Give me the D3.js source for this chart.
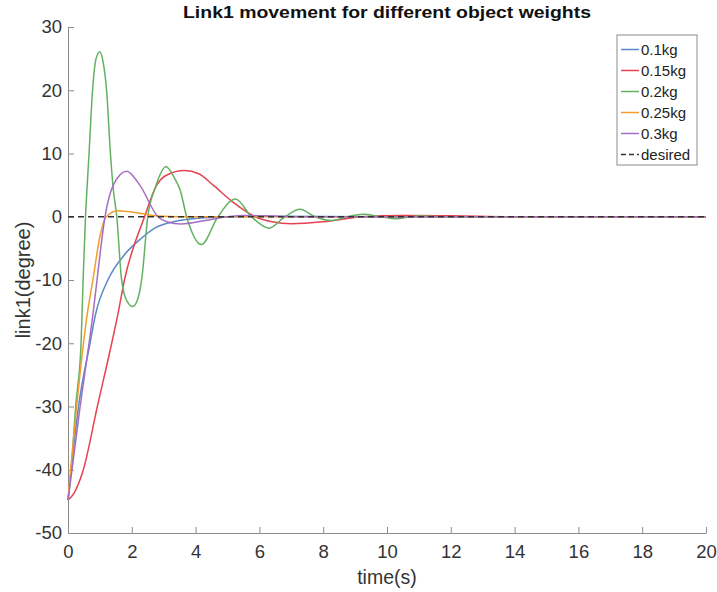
<!DOCTYPE html>
<html>
<head>
<meta charset="utf-8">
<script src="https://cdn.jsdelivr.net/npm/d3@7"></script>
<style>
  body { margin: 0; background: #fff; }
  svg { font-family: "Liberation Sans", Arial, sans-serif; }
</style>
</head>
<body>
<div id="chart"></div>
<script>
// series: time (s) and link1 angle (degree)
const tBlue = [0, 0.1, 0.33, 0.69, 0.86, 1.25, 1.77, 2.3, 2.72, 3.35, 4.17, 5.0, 6.0, 8.0, 10, 20];
const vBlue = [-44.8, -40, -30, -20, -15.5, -10, -6, -3.4, -1.8, -0.75, -0.2, 0, 0.1, 0.05, 0, 0];

const tRed = [0, 0.2, 0.48, 0.92, 1.37, 1.56, 1.77, 2.4, 2.78, 3.1, 3.65, 4.1, 4.55, 5.2, 5.87, 6.4, 7.0, 8.0, 9.2, 10.5, 12, 14, 20];
const vRed = [-44.8, -43.6, -40, -30, -20, -15.5, -10, 0, 5, 6.6, 7.3, 6.8, 5, 2.2, 0, -0.8, -1.1, -0.8, 0, 0.2, 0.15, 0, 0];

const tGreen = [0, 0.1, 0.24, 0.41, 0.48, 0.55, 0.66, 0.77, 0.88, 1.0, 1.1, 1.21, 1.33, 1.42, 1.53, 1.67, 1.8, 2.03, 2.2, 2.32, 2.5, 2.73, 3.07, 3.35, 3.51, 3.72, 4.18, 4.7, 5.25, 5.75, 6.3, 6.8, 7.27, 7.75, 8.25, 8.75, 9.25, 9.8, 10.3, 11, 12, 20];
const vGreen = [-44.8, -40, -30, -20, -9, 0, 10, 20, 25, 26.1, 24.5, 20, 10, 4.3, 0, -9.5, -12.8, -14.2, -12.8, -9.5, 0, 4.5, 7.9, 6, 4.3, 0, -4.4, 0, 2.8, 0, -1.8, 0, 1.2, 0, -0.6, 0, 0.4, 0, -0.3, 0.1, 0, 0];

const tOrange = [0, 0.1, 0.27, 0.6, 0.78, 0.99, 1.2, 1.56, 2.2, 2.82, 3.5, 20];
const vOrange = [-44.8, -39, -30, -15.5, -10, -3.4, 0, 0.95, 0.6, 0.1, 0, 0];

const tPurple = [0, 0.1, 0.38, 0.66, 0.78, 0.91, 1.16, 1.42, 1.84, 2.25, 2.82, 3.1, 3.55, 4.3, 5.0, 5.6, 7.0, 20];
const vPurple = [-44.8, -41, -30, -20, -15.5, -10, 0, 5, 7.2, 5, 0, -0.8, -1.15, -0.6, 0, 0.2, 0, 0];

const tDesired = [0, 20];
const vDesired = [0, 0];

const seriesNames = ["0.1kg", "0.15kg", "0.2kg", "0.25kg", "0.3kg", "desired"];
const seriesColors = ["#5b88c6", "#e4434f", "#62b162", "#f39c2c", "#a56dc1", "#333333"];

const xTicks = [0, 2, 4, 6, 8, 10, 12, 14, 16, 18, 20];
const yTicks = [-50, -40, -30, -20, -10, 0, 10, 20, 30];

const W = 717, H = 592;
const margin = { top: 27, right: 11, bottom: 59, left: 68 };
const width = W - margin.left - margin.right;
const height = H - margin.top - margin.bottom;

const svg = d3.select("#chart").append("svg")
    .attr("width", W)
    .attr("height", H);

const g = svg.append("g")
    .attr("transform", `translate(${margin.left},${margin.top})`);

const x = d3.scaleLinear().domain([0, 20]).range([0, width]);
const y = d3.scaleLinear().domain([-50, 30]).range([height, 0]);

// axes, ticks pointing inward like matlab, plain hyphen for negatives
const xAxisG = g.append("g")
    .attr("transform", `translate(0,${height})`)
    .call(d3.axisBottom(x).tickValues(xTicks).tickFormat(d => String(d))
        .tickSize(-6).tickPadding(12).tickSizeOuter(0));
const yAxisG = g.append("g")
    .call(d3.axisLeft(y).tickValues(yTicks).tickFormat(d => String(d))
        .tickSize(-6).tickPadding(6).tickSizeOuter(0));

[xAxisG, yAxisG].forEach(a => {
    a.select(".domain").attr("stroke", "#8c8c8c");
    a.selectAll(".tick line").attr("stroke", "#8c8c8c");
    a.selectAll(".tick text")
        .attr("fill", "#333")
        .style("font-size", "18.5px");
});
yAxisG.selectAll(".tick text").attr("x", -6);

const line = d3.line()
    .x(d => x(d[0]))
    .y(d => y(d[1]))
    .curve(d3.curveMonotoneX);

const allSeries = [
    [tBlue, vBlue], [tRed, vRed], [tGreen, vGreen],
    [tOrange, vOrange], [tPurple, vPurple], [tDesired, vDesired]
];

g.selectAll(".series")
    .data(allSeries)
    .join("path")
    .attr("class", "series")
    .attr("fill", "none")
    .attr("stroke", (d, i) => seriesColors[i])
    .attr("stroke-width", (d, i) => i === 5 ? 1.3 : 1.5)
    .attr("stroke-dasharray", (d, i) => i === 5 ? "6,4" : null)
    .attr("d", d => line(d[0].map((t, k) => [t, d[1][k]])));

// title and axis labels
svg.append("text")
    .attr("x", margin.left + width / 2)
    .attr("y", 18)
    .attr("text-anchor", "middle")
    .attr("textLength", 408)
    .attr("lengthAdjust", "spacingAndGlyphs")
    .style("font-size", "17px")
    .style("font-weight", "bold")
    .attr("fill", "#111")
    .text("Link1 movement for different object weights");

svg.append("text")
    .attr("x", margin.left + width / 2)
    .attr("y", 584)
    .attr("text-anchor", "middle")
    .style("font-size", "19.5px")
    .attr("fill", "#333")
    .text("time(s)");

svg.append("text")
    .attr("transform", `translate(30,${margin.top + height / 2}) rotate(-90)`)
    .attr("text-anchor", "middle")
    .style("font-size", "20px")
    .attr("fill", "#333")
    .text("link1(degree)");

// legend
const legend = svg.append("g").attr("transform", "translate(617,35)");
legend.append("rect")
    .attr("width", 80)
    .attr("height", 130)
    .attr("fill", "#fff")
    .attr("stroke", "#8c8c8c")
    .attr("stroke-width", 1);

const item = legend.selectAll(".legend-item")
    .data(seriesNames)
    .join("g")
    .attr("class", "legend-item")
    .attr("transform", (d, i) => `translate(0,${14.5 + i * 21})`);

item.append("line")
    .attr("x1", 4).attr("x2", 22)
    .attr("stroke", (d, i) => seriesColors[i])
    .attr("stroke-width", 1.5)
    .attr("stroke-dasharray", (d, i) => i === 5 ? "5,3" : null);

item.append("text")
    .attr("x", 24)
    .attr("dy", "0.35em")
    .style("font-size", "15px")
    .attr("fill", "#222")
    .text(d => d);
</script>
</body>
</html>
